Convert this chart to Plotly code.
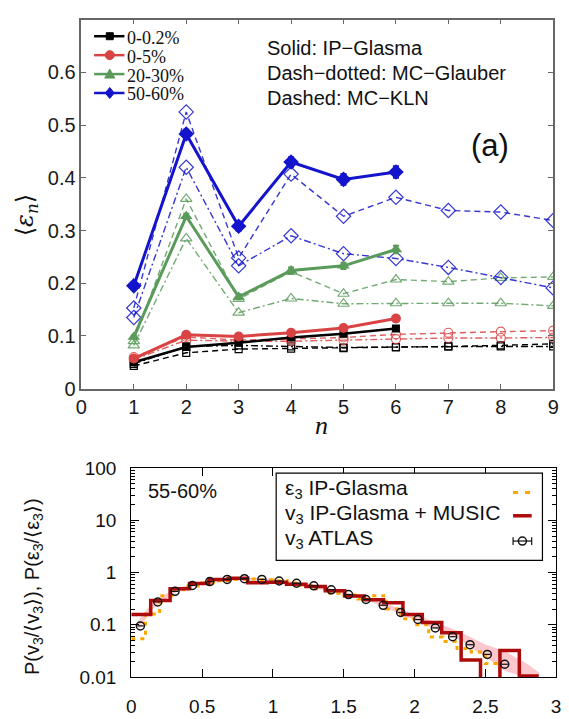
import plotly.graph_objects as go

W, H = 569, 719

# ---------------- top panel data ----------------
n_ip = [1, 2, 3, 4, 5, 6]
n_mc = [1, 2, 3, 4, 5, 6, 7, 8, 9]

ip_0_02 = [0.050, 0.079, 0.087, 0.097, 0.104, 0.114]
ip_0_5 = [0.057, 0.102, 0.099, 0.106, 0.115, 0.133]
ip_20_30 = [0.098, 0.327, 0.174, 0.224, 0.233, 0.264]
ip_50_60 = [0.195, 0.483, 0.308, 0.430, 0.397, 0.411]

err_0_02 = [0.002, 0.002, 0.002, 0.003, 0.003, 0.004]
err_0_5 = [0.002, 0.003, 0.003, 0.003, 0.004, 0.005]
err_20_30 = [0.003, 0.005, 0.005, 0.006, 0.006, 0.007]
err_50_60 = [0.006, 0.008, 0.008, 0.009, 0.010, 0.011]

kln_0_02 = [0.043, 0.068, 0.075, 0.076, 0.077, 0.078, 0.080, 0.082, 0.085]
glb_0_02 = [0.047, 0.080, 0.082, 0.080, 0.078, 0.079, 0.080, 0.080, 0.080]
kln_0_5 = [0.060, 0.098, 0.092, 0.095, 0.097, 0.103, 0.106, 0.108, 0.110]
glb_0_5 = [0.055, 0.092, 0.090, 0.090, 0.092, 0.094, 0.096, 0.096, 0.097]
kln_20_30 = [0.090, 0.360, 0.170, 0.222, 0.180, 0.207, 0.203, 0.210, 0.212]
glb_20_30 = [0.082, 0.285, 0.144, 0.171, 0.161, 0.162, 0.162, 0.162, 0.157]
kln_50_60 = [0.153, 0.525, 0.248, 0.407, 0.327, 0.363, 0.338, 0.335, 0.319]
glb_50_60 = [0.135, 0.420, 0.233, 0.290, 0.256, 0.247, 0.230, 0.211, 0.191]

top_xticks = [0, 1, 2, 3, 4, 5, 6, 7, 8, 9]
top_yticks = [0, 0.1, 0.2, 0.3, 0.4, 0.5, 0.6]
top_ytext = ["0", "0.1", "0.2", "0.3", "0.4", "0.5", "0.6"]
cent_labels = ["0-0.2%", "0-5%", "20-30%", "50-60%"]

# ---------------- bottom panel data ----------------
red_edges = [0.000, 0.137, 0.274, 0.411, 0.548, 0.685, 0.822, 0.959, 1.096, 1.233, 1.370,
             1.507, 1.644, 1.781, 1.918, 2.055, 2.192, 2.329, 2.466, 2.603, 2.740, 2.877]
red_vals = [0.158, 0.29, 0.49, 0.62, 0.74, 0.78, 0.64, 0.65, 0.60, 0.54, 0.45,
            0.355, 0.30, 0.265, 0.158, 0.11, 0.07, 0.021, 0.0001, 0.032, 0.0104]

orange_edges = [0.0, 0.1, 0.2, 0.3, 0.4, 0.5, 0.6, 0.7, 0.8, 0.9, 1.0, 1.1, 1.2, 1.3,
                1.4, 1.5, 1.6, 1.7, 1.8, 1.9, 2.0, 2.1, 2.2, 2.3, 2.4, 2.5, 2.6, 2.7]
orange_vals = [0.054, 0.16, 0.36, 0.47, 0.55, 0.63, 0.70, 0.74, 0.75, 0.73, 0.70, 0.63, 0.57,
               0.49, 0.40, 0.37, 0.31, 0.36, 0.20, 0.13, 0.10, 0.058, 0.048, 0.035, 0.030,
               0.018, 0.006]

atlas_x = [0.064, 0.187, 0.309, 0.432, 0.554, 0.677, 0.799, 0.922, 1.044, 1.167, 1.289,
           1.412, 1.534, 1.657, 1.779, 1.902, 2.024, 2.147, 2.269, 2.392, 2.514, 2.637]
atlas_y = [0.095, 0.273, 0.437, 0.565, 0.671, 0.740, 0.763, 0.740, 0.689, 0.624, 0.556,
           0.468, 0.378, 0.305, 0.236, 0.172, 0.126, 0.087, 0.059, 0.0415, 0.027, 0.0175]

band_x = [0.05, 0.15, 0.3, 0.5, 0.7, 0.9, 1.1, 1.3, 1.5, 1.7, 1.9, 2.1, 2.3, 2.5, 2.64, 2.8, 2.88]
band_lo = [0.08, 0.20, 0.40, 0.60, 0.70, 0.70, 0.62, 0.50, 0.37, 0.27, 0.16, 0.095, 0.055,
           0.024, 0.013, 0.0095, 0.009]
band_hi = [0.12, 0.27, 0.48, 0.68, 0.80, 0.80, 0.70, 0.58, 0.43, 0.32, 0.20, 0.125, 0.078,
           0.042, 0.031, 0.0175, 0.012]

bot_xticks = [0, 0.5, 1, 1.5, 2, 2.5, 3]
bot_xtext = ["0", "0.5", "1", "1.5", "2", "2.5", "3"]
bot_yticks = [0.01, 0.1, 1, 10, 100]
bot_ytext = ["0.01", "0.1", "1", "10", "100"]

# ---------------- styles ----------------
C_BLACK = "#000000"
C_RED = "#d94343"
C_GREEN = "#5a9a5a"
C_BLUE = "#1414cc"
C_RED_D = "rgba(217,67,67,0.85)"
C_GREEN_D = "rgba(90,154,90,0.85)"
C_BLUE_D = "rgba(20,20,204,0.85)"
SANS = "Liberation Sans, Arial, sans-serif"
SERIF = "Liberation Serif, Times New Roman, serif"
DASH = "6px,4px"
DASHDOT = "7px,3px,2px,3px"


def px(x):
    return x / W


def py(y):
    return 1 - y / H


fig = go.Figure()

series = [
    (C_BLACK, C_BLACK, "square", ip_0_02, err_0_02, kln_0_02, glb_0_02, 2.5, 8),
    (C_RED, C_RED_D, "circle", ip_0_5, err_0_5, kln_0_5, glb_0_5, 3, 10),
    (C_GREEN, C_GREEN_D, "triangle-up", ip_20_30, err_20_30, kln_20_30, glb_20_30, 3, 11),
    (C_BLUE, C_BLUE_D, "diamond", ip_50_60, err_50_60, kln_50_60, glb_50_60, 3, 12),
]

# model curves (dashed / dash-dotted, open markers)
for col, cold, sym, ip, err, kln, glb, lw, ms in series:
    for vals, dash in ((glb, DASHDOT), (kln, DASH)):
        fig.add_trace(go.Scatter(
            x=n_mc, y=vals, mode="lines+markers", xaxis="x", yaxis="y",
            line=dict(color=cold, width=1.4, dash=dash),
            marker=dict(symbol=sym + "-open", size=ms - 1, color=cold, line=dict(width=1.2)),
            showlegend=False, hoverinfo="skip"))

# IP-Glasma solid curves
for col, cold, sym, ip, err, kln, glb, lw, ms in series:
    fig.add_trace(go.Scatter(
        x=n_ip, y=ip, mode="lines+markers", xaxis="x", yaxis="y",
        line=dict(color=col, width=lw),
        marker=dict(symbol=sym, size=ms, color=col),
        error_y=dict(type="data", array=err, color=col, thickness=2, width=3),
        showlegend=False, hoverinfo="skip"))

# bottom panel
fig.add_trace(go.Scatter(x=band_x, y=band_lo, mode="lines", line=dict(width=0, color="#fcc8cd"),
                         xaxis="x2", yaxis="y2", showlegend=False, hoverinfo="skip"))
fig.add_trace(go.Scatter(x=band_x, y=band_hi, mode="lines", line=dict(width=0, color="#fcc8cd"),
                         fill="tonexty", fillcolor="#fcc8cd",
                         xaxis="x2", yaxis="y2", showlegend=False, hoverinfo="skip"))
fig.add_trace(go.Scatter(x=orange_edges, y=orange_vals + [orange_vals[-1]], mode="lines",
                         line=dict(color="#ffa500", width=3, dash="4px,5px", shape="hv"),
                         xaxis="x2", yaxis="y2", showlegend=False, hoverinfo="skip"))
fig.add_trace(go.Scatter(x=red_edges, y=red_vals + [red_vals[-1]], mode="lines",
                         line=dict(color="#ad0b0b", width=3.5, shape="hv"),
                         xaxis="x2", yaxis="y2", showlegend=False, hoverinfo="skip"))
fig.add_trace(go.Scatter(x=atlas_x, y=atlas_y, mode="markers",
                         marker=dict(symbol="circle-open", size=8, color="#111111", line=dict(width=1.5)),
                         error_x=dict(type="constant", value=0.022, color="#111111", thickness=1.2, width=0),
                         xaxis="x2", yaxis="y2", showlegend=False, hoverinfo="skip"))

# ---------------- annotations ----------------
ann = []
def text(x, y, s, size, family=SANS, xanchor="left", angle=0, color="#111111", height=None):
    a = dict(x=px(x), y=py(y), xref="paper", yref="paper", text=s, showarrow=False,
             xanchor=xanchor, yanchor="middle", textangle=angle,
             font=dict(size=size, family=family, color=color))
    if height is not None:
        a["height"] = height
    ann.append(a)

text(265, 39, "Solid: IP\u2212Glasma", 20)
text(265, 65, "Dash\u2212dotted: MC\u2212Glauber", 20)
text(265, 91, "Dashed: MC\u2212KLN", 20)
text(494, 140, "(a)", 31, xanchor="center")
text(21, 212, "\u27e8<i>\u03b5<sub>n</sub></i>\u27e9", 24, family="DejaVu Serif, serif", xanchor="center", angle=-90)
text(322, 428, "<i>n</i>", 26, family=SERIF, xanchor="center")
text(28, 594, "P(v<sub>3</sub>/\u27e8v<sub>3</sub>\u27e9), P(\u03b5<sub>3</sub>/\u27e8\u03b5<sub>3</sub>\u27e9)",
     20, xanchor="center", angle=-90)
text(143, 495, "55-60%", 20)

shapes = []
# top legend (manual, matlab-like)
leg_y = [27, 46.5, 66, 85.5]
leg_cols = [C_BLACK, C_RED, C_GREEN, C_BLUE]
for i, (lab, col) in enumerate(zip(cent_labels, leg_cols)):
    yy = leg_y[i]
    shapes.append(dict(type="line", xref="paper", yref="paper", x0=px(90), x1=px(121),
                       y0=py(yy), y1=py(yy), line=dict(color=col, width=2.5)))
    base = dict(xref="paper", yref="paper", xsizemode="pixel", ysizemode="pixel",
                xanchor=px(106), yanchor=py(yy), fillcolor=col, line=dict(color=col, width=1))
    if i == 0:
        shapes.append(dict(type="rect", x0=-3.5, x1=3.5, y0=-3.5, y1=3.5, **base))
    elif i == 1:
        shapes.append(dict(type="circle", x0=-4.5, x1=4.5, y0=-4.5, y1=4.5, **base))
    elif i == 2:
        shapes.append(dict(type="path", path="M -5 -4 L 5 -4 L 0 5 Z", **base))
    else:
        shapes.append(dict(type="path", path="M 0 -5.5 L 4.5 0 L 0 5.5 L -4.5 0 Z", **base))
    text(122, yy + 1, lab, 18, family=SERIF, height=17)

# bottom legend (manual, gnuplot-like)
shapes.append(dict(type="rect", xref="paper", yref="paper", x0=px(276), x1=px(548),
                   y0=py(567), y1=py(477), line=dict(color="#000000", width=1.2),
                   fillcolor="white", layer="above"))
text(283, 493, "\u03b5<sub>3</sub> IP-Glasma", 21)
text(283, 519, "v<sub>3</sub> IP-Glasma + MUSIC", 21)
text(283, 545, "v<sub>3</sub> ATLAS", 21)
shapes.append(dict(type="line", xref="paper", yref="paper", x0=px(518), x1=px(537),
                   y0=py(497), y1=py(497), line=dict(color="#ffa500", width=3, dash="5px,7px"),
                   layer="above"))
shapes.append(dict(type="line", xref="paper", yref="paper", x0=px(518), x1=px(537),
                   y0=py(521), y1=py(521), line=dict(color="#ad0b0b", width=3.5), layer="above"))
shapes.append(dict(type="line", xref="paper", yref="paper", x0=px(518), x1=px(537),
                   y0=py(547), y1=py(547), line=dict(color="#111111", width=1.2), layer="above"))
for xx in (518, 537):
    shapes.append(dict(type="line", xref="paper", yref="paper", x0=px(xx), x1=px(xx),
                       y0=py(543), y1=py(551), line=dict(color="#111111", width=1.2), layer="above"))
shapes.append(dict(type="circle", xref="paper", yref="paper", xsizemode="pixel", ysizemode="pixel",
                   xanchor=px(527.5), yanchor=py(547), x0=-4, x1=4, y0=-4, y1=4,
                   line=dict(color="#111111", width=1.5), fillcolor="rgba(0,0,0,0)", layer="above"))

axis_top = dict(showgrid=False, zeroline=False, showline=True, linecolor="#666666", linewidth=1.5,
                mirror="allticks", ticks="inside", ticklen=5, tickcolor="#666666",
                tickfont=dict(size=20, family=SANS, color="#1a1a1a"))
axis_bot = dict(showgrid=False, zeroline=False, showline=True, linecolor="#000000", linewidth=1.2,
                mirror="allticks", ticks="inside", ticklen=8, tickcolor="#000000",
                tickfont=dict(size=19, family=SANS, color="#111111"))

fig.update_layout(
    width=W, height=H, margin=dict(l=0, r=0, t=0, b=0),
    paper_bgcolor="white", plot_bgcolor="white", showlegend=False,
    xaxis=dict(domain=[px(77), px(559)], range=[0, 9], tickvals=top_xticks, anchor="y", **axis_top),
    yaxis=dict(domain=[py(390), py(10)], range=[0, 0.7], tickvals=top_yticks, ticktext=top_ytext,
               anchor="x", **axis_top),
    xaxis2=dict(domain=[px(128), px(562)], range=[0, 3], tickvals=bot_xticks, ticktext=bot_xtext,
                anchor="y2", ticklabelstandoff=12, **axis_bot),
    yaxis2=dict(domain=[py(687), py(472)], type="log", range=[-2, 2], tickvals=bot_yticks,
                ticktext=bot_ytext, anchor="x2", ticklabelstandoff=10,
                minor=dict(ticks="inside", ticklen=4, tickcolor="#000000", dtick="D1"), **axis_bot),
    annotations=ann, shapes=shapes,
)

fig.write_html("out.html")
